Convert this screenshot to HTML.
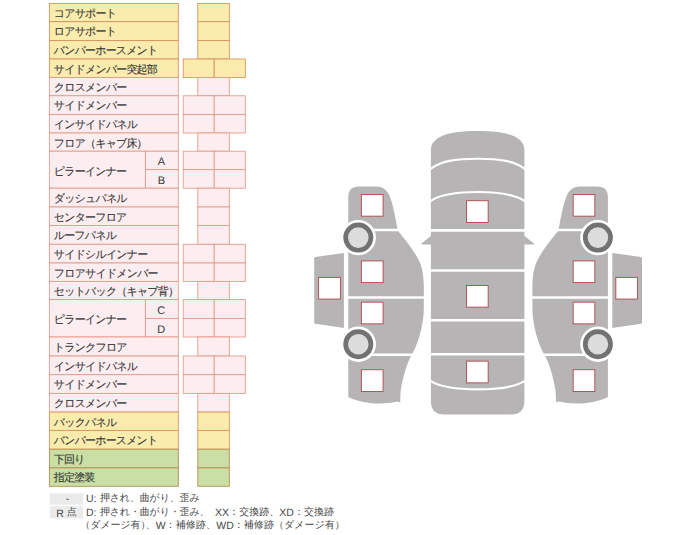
<!DOCTYPE html>
<html lang="ja"><head><meta charset="utf-8"><title>骨格部位</title>
<style>
html,body{margin:0;padding:0;background:#fff}
body{width:692px;height:535px;position:relative;overflow:hidden;font-family:"Liberation Sans",sans-serif;color:#383838}
svg{position:absolute;left:0;top:0}
.t{position:absolute;margin-top:1.5px;font-size:11px;letter-spacing:-0.84px;-webkit-text-stroke:0.13px #3a3a3a;text-rendering:geometricPrecision;white-space:nowrap;overflow:visible}
.c{text-align:center;font-size:11px;letter-spacing:0;margin-left:-0.5px;margin-top:1.9px;-webkit-text-stroke:0}
.l{position:absolute;font-size:10px;letter-spacing:0.04px;text-rendering:geometricPrecision;white-space:nowrap;line-height:13.3px;height:13.3px;color:#484848}
.a{position:relative;top:1.3px;font-size:10.5px}
</style></head><body>
<svg width="692" height="535" viewBox="0 0 692 535">
<rect x="49.40" y="3.50" width="128.90" height="18.20" fill="#faecad" stroke="#d98f58" stroke-width="0.85"/>
<rect x="197.80" y="3.50" width="31.50" height="18.20" fill="#faecad" stroke="#d98f58" stroke-width="0.85"/>
<rect x="49.40" y="21.70" width="128.90" height="18.80" fill="#faecad" stroke="#d98f58" stroke-width="0.85"/>
<rect x="197.80" y="21.70" width="31.50" height="18.80" fill="#faecad" stroke="#d98f58" stroke-width="0.85"/>
<rect x="49.40" y="40.50" width="128.90" height="18.50" fill="#faecad" stroke="#d98f58" stroke-width="0.85"/>
<rect x="197.80" y="40.50" width="31.50" height="18.50" fill="#faecad" stroke="#d98f58" stroke-width="0.85"/>
<rect x="49.40" y="59.00" width="128.90" height="18.60" fill="#faecad" stroke="#d98f58" stroke-width="0.85"/>
<rect x="183.20" y="59.00" width="31.00" height="18.60" fill="#faecad" stroke="#d98f58" stroke-width="0.85"/>
<rect x="214.20" y="59.00" width="31.10" height="18.60" fill="#faecad" stroke="#d98f58" stroke-width="0.85"/>
<rect x="49.40" y="77.60" width="128.90" height="18.20" fill="#fcedf0" stroke="#e39885" stroke-width="0.85"/>
<rect x="197.80" y="77.60" width="31.50" height="18.20" fill="#fcedf0" stroke="#e39885" stroke-width="0.85"/>
<rect x="49.40" y="95.80" width="128.90" height="18.60" fill="#fcedf0" stroke="#e39885" stroke-width="0.85"/>
<rect x="183.20" y="95.80" width="31.00" height="18.60" fill="#fcedf0" stroke="#e39885" stroke-width="0.85"/>
<rect x="214.20" y="95.80" width="31.10" height="18.60" fill="#fcedf0" stroke="#e39885" stroke-width="0.85"/>
<rect x="49.40" y="114.40" width="128.90" height="18.60" fill="#fcedf0" stroke="#e39885" stroke-width="0.85"/>
<rect x="183.20" y="114.40" width="31.00" height="18.60" fill="#fcedf0" stroke="#e39885" stroke-width="0.85"/>
<rect x="214.20" y="114.40" width="31.10" height="18.60" fill="#fcedf0" stroke="#e39885" stroke-width="0.85"/>
<rect x="49.40" y="133.00" width="128.90" height="18.20" fill="#fcedf0" stroke="#e39885" stroke-width="0.85"/>
<rect x="197.80" y="133.00" width="31.50" height="18.20" fill="#fcedf0" stroke="#e39885" stroke-width="0.85"/>
<rect x="49.40" y="151.20" width="96.00" height="37.00" fill="#fcedf0" stroke="#e39885" stroke-width="0.85"/>
<rect x="145.40" y="151.20" width="32.90" height="18.50" fill="#fcedf0" stroke="#e39885" stroke-width="0.85"/>
<rect x="145.40" y="169.70" width="32.90" height="18.50" fill="#fcedf0" stroke="#e39885" stroke-width="0.85"/>
<rect x="183.20" y="151.20" width="31.00" height="18.50" fill="#fcedf0" stroke="#e39885" stroke-width="0.85"/>
<rect x="214.20" y="151.20" width="31.10" height="18.50" fill="#fcedf0" stroke="#e39885" stroke-width="0.85"/>
<rect x="183.20" y="169.70" width="31.00" height="18.50" fill="#fcedf0" stroke="#e39885" stroke-width="0.85"/>
<rect x="214.20" y="169.70" width="31.10" height="18.50" fill="#fcedf0" stroke="#e39885" stroke-width="0.85"/>
<rect x="49.40" y="188.20" width="128.90" height="18.80" fill="#fcedf0" stroke="#e39885" stroke-width="0.85"/>
<rect x="197.80" y="188.20" width="31.50" height="18.80" fill="#fcedf0" stroke="#e39885" stroke-width="0.85"/>
<rect x="49.40" y="207.00" width="128.90" height="18.60" fill="#fcedf0" stroke="#e39885" stroke-width="0.85"/>
<rect x="197.80" y="207.00" width="31.50" height="18.60" fill="#fcedf0" stroke="#e39885" stroke-width="0.85"/>
<rect x="49.40" y="225.60" width="128.90" height="18.70" fill="#fcedf0" stroke="#e39885" stroke-width="0.85"/>
<rect x="197.80" y="225.60" width="31.50" height="18.70" fill="#fcedf0" stroke="#e39885" stroke-width="0.85"/>
<rect x="49.40" y="244.30" width="128.90" height="18.70" fill="#fcedf0" stroke="#e39885" stroke-width="0.85"/>
<rect x="183.20" y="244.30" width="31.00" height="18.70" fill="#fcedf0" stroke="#e39885" stroke-width="0.85"/>
<rect x="214.20" y="244.30" width="31.10" height="18.70" fill="#fcedf0" stroke="#e39885" stroke-width="0.85"/>
<rect x="49.40" y="263.00" width="128.90" height="18.40" fill="#fcedf0" stroke="#e39885" stroke-width="0.85"/>
<rect x="183.20" y="263.00" width="31.00" height="18.40" fill="#fcedf0" stroke="#e39885" stroke-width="0.85"/>
<rect x="214.20" y="263.00" width="31.10" height="18.40" fill="#fcedf0" stroke="#e39885" stroke-width="0.85"/>
<rect x="49.40" y="281.40" width="128.90" height="18.20" fill="#fcedf0" stroke="#e39885" stroke-width="0.85"/>
<rect x="197.80" y="281.40" width="31.50" height="18.20" fill="#fcedf0" stroke="#e39885" stroke-width="0.85"/>
<rect x="49.40" y="299.60" width="96.00" height="37.40" fill="#fcedf0" stroke="#e39885" stroke-width="0.85"/>
<rect x="145.40" y="299.60" width="32.90" height="18.80" fill="#fcedf0" stroke="#e39885" stroke-width="0.85"/>
<rect x="145.40" y="318.40" width="32.90" height="18.60" fill="#fcedf0" stroke="#e39885" stroke-width="0.85"/>
<rect x="183.20" y="299.60" width="31.00" height="18.80" fill="#fcedf0" stroke="#e39885" stroke-width="0.85"/>
<rect x="214.20" y="299.60" width="31.10" height="18.80" fill="#fcedf0" stroke="#e39885" stroke-width="0.85"/>
<rect x="183.20" y="318.40" width="31.00" height="18.60" fill="#fcedf0" stroke="#e39885" stroke-width="0.85"/>
<rect x="214.20" y="318.40" width="31.10" height="18.60" fill="#fcedf0" stroke="#e39885" stroke-width="0.85"/>
<rect x="49.40" y="337.00" width="128.90" height="19.00" fill="#fcedf0" stroke="#e39885" stroke-width="0.85"/>
<rect x="197.80" y="337.00" width="31.50" height="19.00" fill="#fcedf0" stroke="#e39885" stroke-width="0.85"/>
<rect x="49.40" y="356.00" width="128.90" height="18.70" fill="#fcedf0" stroke="#e39885" stroke-width="0.85"/>
<rect x="183.20" y="356.00" width="31.00" height="18.70" fill="#fcedf0" stroke="#e39885" stroke-width="0.85"/>
<rect x="214.20" y="356.00" width="31.10" height="18.70" fill="#fcedf0" stroke="#e39885" stroke-width="0.85"/>
<rect x="49.40" y="374.70" width="128.90" height="18.70" fill="#fcedf0" stroke="#e39885" stroke-width="0.85"/>
<rect x="183.20" y="374.70" width="31.00" height="18.70" fill="#fcedf0" stroke="#e39885" stroke-width="0.85"/>
<rect x="214.20" y="374.70" width="31.10" height="18.70" fill="#fcedf0" stroke="#e39885" stroke-width="0.85"/>
<rect x="49.40" y="393.40" width="128.90" height="18.70" fill="#fcedf0" stroke="#e39885" stroke-width="0.85"/>
<rect x="197.80" y="393.40" width="31.50" height="18.70" fill="#fcedf0" stroke="#e39885" stroke-width="0.85"/>
<rect x="49.40" y="412.10" width="128.90" height="18.30" fill="#faecad" stroke="#d98f58" stroke-width="0.85"/>
<rect x="197.80" y="412.10" width="31.50" height="18.30" fill="#faecad" stroke="#d98f58" stroke-width="0.85"/>
<rect x="49.40" y="430.40" width="128.90" height="18.80" fill="#faecad" stroke="#d98f58" stroke-width="0.85"/>
<rect x="197.80" y="430.40" width="31.50" height="18.80" fill="#faecad" stroke="#d98f58" stroke-width="0.85"/>
<rect x="49.40" y="449.20" width="128.90" height="18.70" fill="#c9dfa3" stroke="#bb8652" stroke-width="0.85"/>
<rect x="197.80" y="449.20" width="31.50" height="18.70" fill="#c9dfa3" stroke="#bb8652" stroke-width="0.85"/>
<rect x="49.40" y="467.90" width="128.90" height="18.40" fill="#c9dfa3" stroke="#bb8652" stroke-width="0.85"/>
<rect x="197.80" y="467.90" width="31.50" height="18.40" fill="#c9dfa3" stroke="#bb8652" stroke-width="0.85"/>
<rect x="49.8" y="493.2" width="33.4" height="11.5" fill="#ebebeb"/>
<rect x="49.8" y="506.1" width="33.4" height="12.3" fill="#ebebeb"/>
<path fill="#b6b4b5" d="M430.9,150 C430.9,140 441,134.5 456,132.2 C463,131.2 470,130.9 477.65,130.9 C485.3,130.9 492.3,131.2 499.3,132.2 C514.3,134.5 524.4,140 524.4,150 L524.4,236 L534,243.5 L534,244.5 L524.4,244.5 L524.4,401 Q524.4,414.5 510.9,414.5 L444.4,414.5 Q430.9,414.5 430.9,401 L430.9,244.5 L421.5,244.5 L421.5,243.5 L430.9,236 Z"/>
<path stroke="#fff" stroke-width="2.1" fill="none" d="M430,169.4 L430.9,168.7 C441,161 455,158.8 477.65,158.8 C500.3,158.8 514.3,161 524.4,168.7 L525.3,169.4"/>
<path stroke="#fff" stroke-width="2.1" fill="none" d="M430,201.4 L430.9,200.8 C441,194.2 455,192 477.65,192 C500.3,192 514.3,194.2 524.4,200.8 L525.3,201.4"/>
<path stroke="#fff" stroke-width="2.6" fill="none" d="M430,230.4 L525.3,230.4"/>
<path stroke="#fff" stroke-width="2.6" fill="none" d="M430,270.5 L525.3,270.5"/>
<path stroke="#fff" stroke-width="2.6" fill="none" d="M430,320.3 L525.3,320.3"/>
<path stroke="#fff" stroke-width="2.6" fill="none" d="M430,354.3 L525.3,354.3"/>
<path stroke="#fff" stroke-width="2.1" fill="none" d="M430,380.6 L430.9,381.2 C441,387.5 455,389.4 477.65,389.4 C500.3,389.4 514.3,387.5 524.4,381.2 L525.3,380.6"/>
<rect x="466.45" y="200.75" width="21.7" height="21.7" fill="#fff" stroke="#ad3f45" stroke-width="0.85"/>
<rect x="466.45" y="285.45" width="21.7" height="21.7" fill="#fff" stroke="#ad3f45" stroke-width="0.85"/>
<rect x="466.45" y="361.15" width="21.7" height="21.7" fill="#fff" stroke="#ad3f45" stroke-width="0.85"/>
<g><path fill="#b6b4b5" d="M348.3,197 C348.3,190 352,186.6 359,186.6 L376,186.6 C383,186.6 387.5,190 390.4,198.3 C393,205 395.5,218 397.7,230.5 C405,239.5 416,253 420,263 C422.5,269.5 423.8,277 423.8,288 L423.8,308 C423.8,325 418,345 411,356 C405,368 402,382 400.5,392 L400.2,402.6 L397.5,401.6 C390,403.5 378,404 370,403 C360,401.8 354,399.8 348.3,397 Z"/><path fill="#b6b4b5" d="M314.2,258.4 Q314.2,257.2 315.4,257 L343.9,252.9 L343.9,328 L315.4,323.8 Q314.2,323.6 314.2,322.4 Z"/><path stroke="#fff" stroke-width="2.6" fill="none" d="M358,230.0 L400,230.0"/><path stroke="#fff" stroke-width="2.6" fill="none" d="M347,297.5 L425,297.5"/><path stroke="#fff" stroke-width="2.6" fill="none" d="M358,354.8 L413,354.8"/><circle cx="358.3" cy="237.6" r="17.7" fill="#fff"/><circle cx="358.3" cy="237.6" r="12.65" fill="#dddcdc" stroke="#727272" stroke-width="4.7"/><circle cx="358.3" cy="344.2" r="17.7" fill="#fff"/><circle cx="358.3" cy="344.2" r="12.65" fill="#dddcdc" stroke="#727272" stroke-width="4.7"/><rect x="361.35" y="194.45" width="21.7" height="21.7" fill="#fff" stroke="#ad3f45" stroke-width="0.85"/><rect x="361.35" y="260.95" width="21.7" height="21.7" fill="#fff" stroke="#ad3f45" stroke-width="0.85"/><rect x="361.35" y="302.15" width="21.7" height="21.7" fill="#fff" stroke="#ad3f45" stroke-width="0.85"/><rect x="361.35" y="369.75" width="21.7" height="21.7" fill="#fff" stroke="#ad3f45" stroke-width="0.85"/><rect x="318.65" y="277.35" width="21.7" height="21.7" fill="#fff" stroke="#ad3f45" stroke-width="0.85"/></g><g transform="translate(956.2,0) scale(-1,1)"><path fill="#b6b4b5" d="M348.3,197 C348.3,190 352,186.6 359,186.6 L376,186.6 C383,186.6 387.5,190 390.4,198.3 C393,205 395.5,218 397.7,230.5 C405,239.5 416,253 420,263 C422.5,269.5 423.8,277 423.8,288 L423.8,308 C423.8,325 418,345 411,356 C405,368 402,382 400.5,392 L400.2,402.6 L397.5,401.6 C390,403.5 378,404 370,403 C360,401.8 354,399.8 348.3,397 Z"/><path fill="#b6b4b5" d="M314.2,258.4 Q314.2,257.2 315.4,257 L343.9,252.9 L343.9,328 L315.4,323.8 Q314.2,323.6 314.2,322.4 Z"/><path stroke="#fff" stroke-width="2.6" fill="none" d="M358,230.0 L400,230.0"/><path stroke="#fff" stroke-width="2.6" fill="none" d="M347,297.5 L425,297.5"/><path stroke="#fff" stroke-width="2.6" fill="none" d="M358,354.8 L413,354.8"/><circle cx="358.3" cy="237.6" r="17.7" fill="#fff"/><circle cx="358.3" cy="237.6" r="12.65" fill="#dddcdc" stroke="#727272" stroke-width="4.7"/><circle cx="358.3" cy="344.2" r="17.7" fill="#fff"/><circle cx="358.3" cy="344.2" r="12.65" fill="#dddcdc" stroke="#727272" stroke-width="4.7"/><rect x="361.35" y="194.45" width="21.7" height="21.7" fill="#fff" stroke="#ad3f45" stroke-width="0.85"/><rect x="361.35" y="260.95" width="21.7" height="21.7" fill="#fff" stroke="#ad3f45" stroke-width="0.85"/><rect x="361.35" y="302.15" width="21.7" height="21.7" fill="#fff" stroke="#ad3f45" stroke-width="0.85"/><rect x="361.35" y="369.75" width="21.7" height="21.7" fill="#fff" stroke="#ad3f45" stroke-width="0.85"/><rect x="318.65" y="277.35" width="21.7" height="21.7" fill="#fff" stroke="#ad3f45" stroke-width="0.85"/></g>
</svg>
<div class="t" style="left:53.8px;top:3.50px;height:18.20px;line-height:18.20px">コアサポート</div>
<div class="t" style="left:53.8px;top:21.70px;height:18.80px;line-height:18.80px">ロアサポート</div>
<div class="t" style="left:53.8px;top:40.50px;height:18.50px;line-height:18.50px">バンパーホースメント</div>
<div class="t" style="left:53.8px;top:59.00px;height:18.60px;line-height:18.60px">サイドメンバー突起部</div>
<div class="t" style="left:53.8px;top:77.60px;height:18.20px;line-height:18.20px">クロスメンバー</div>
<div class="t" style="left:53.8px;top:95.80px;height:18.60px;line-height:18.60px">サイドメンバー</div>
<div class="t" style="left:53.8px;top:114.40px;height:18.60px;line-height:18.60px">インサイドパネル</div>
<div class="t" style="left:53.8px;top:133.00px;height:18.20px;line-height:18.20px">フロア（キャブ床）</div>
<div class="t" style="left:53.8px;top:152.30px;height:37.00px;line-height:37.00px">ピラーインナー</div>
<div class="t c" style="left:145.4px;width:32.9px;top:151.20px;height:18.50px;line-height:18.50px">A</div>
<div class="t c" style="left:145.4px;width:32.9px;top:169.70px;height:18.50px;line-height:18.50px">B</div>
<div class="t" style="left:53.8px;top:188.20px;height:18.80px;line-height:18.80px">ダッシュパネル</div>
<div class="t" style="left:53.8px;top:207.00px;height:18.60px;line-height:18.60px">センターフロア</div>
<div class="t" style="left:53.8px;top:225.60px;height:18.70px;line-height:18.70px">ルーフパネル</div>
<div class="t" style="left:53.8px;top:244.30px;height:18.70px;line-height:18.70px">サイドシルインナー</div>
<div class="t" style="left:53.8px;top:263.00px;height:18.40px;line-height:18.40px">フロアサイドメンバー</div>
<div class="t" style="left:53.8px;top:281.40px;height:18.20px;line-height:18.20px">セットバック（キャブ背）</div>
<div class="t" style="left:53.8px;top:300.70px;height:37.40px;line-height:37.40px">ピラーインナー</div>
<div class="t c" style="left:145.4px;width:32.9px;top:300.50px;height:18.80px;line-height:18.80px">C</div>
<div class="t c" style="left:145.4px;width:32.9px;top:319.30px;height:18.60px;line-height:18.60px">D</div>
<div class="t" style="left:53.8px;top:337.00px;height:19.00px;line-height:19.00px">トランクフロア</div>
<div class="t" style="left:53.8px;top:356.00px;height:18.70px;line-height:18.70px">インサイドパネル</div>
<div class="t" style="left:53.8px;top:374.70px;height:18.70px;line-height:18.70px">サイドメンバー</div>
<div class="t" style="left:53.8px;top:393.40px;height:18.70px;line-height:18.70px">クロスメンバー</div>
<div class="t" style="left:53.8px;top:412.10px;height:18.30px;line-height:18.30px">バックパネル</div>
<div class="t" style="left:53.8px;top:430.40px;height:18.80px;line-height:18.80px">バンパーホースメント</div>
<div class="t" style="left:53.8px;top:449.20px;height:18.70px;line-height:18.70px">下回り</div>
<div class="t" style="left:53.8px;top:467.90px;height:18.40px;line-height:18.40px">指定塗装</div>
<div class="l" style="left:50.8px;width:33.5px;top:492.0px;text-align:center"><span class="a">-</span></div>
<div class="l" style="left:49.8px;width:33.5px;top:506.4px;text-align:center"><span class="a">R</span> 点</div>
<div class="l" style="left:86.0px;top:492.0px"><span class="a">U:</span></div>
<div class="l" style="left:99.9px;top:492.0px;letter-spacing:-0.16px">押され、曲がり、歪み</div>
<div class="l" style="left:86.0px;top:505.7px"><span class="a">D:</span></div>
<div class="l" style="left:99.9px;top:505.7px;letter-spacing:-0.16px">押され・曲がり・歪み、</div>
<div class="l" style="left:215.0px;top:505.7px"><span class="a">XX</span>：交換跡、<span class="a">XD</span>：交換跡</div>
<div class="l" style="left:80.3px;top:519px;letter-spacing:-0.1px">（ダメージ有）</div>
<div class="l" style="left:145.6px;top:519px">、<span class="a">W</span>：補修跡、</div>
<div class="l" style="left:216.2px;top:519px"><span class="a">WD</span>：補修跡（ダメージ有）</div>
</body></html>
